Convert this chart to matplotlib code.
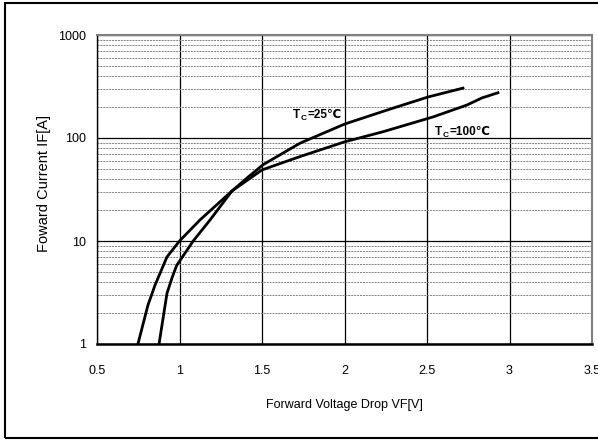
import matplotlib
matplotlib.use("Agg")
import matplotlib.pyplot as plt
from matplotlib.patches import Rectangle
import numpy as np

# Data
vf_25 = [0.748, 0.809, 0.852, 0.924, 1.0, 1.124, 1.318, 1.41, 1.506, 1.73, 2.003, 2.294, 2.506, 2.718]
if_25 = [1.0, 2.39, 3.74, 7.0, 10.0, 16.0, 30.6, 41.0, 55.0, 89.0, 137.0, 195.0, 250.0, 305.0]
vf_100 = [0.876, 0.924, 0.957, 0.983, 1.083, 1.185, 1.318, 1.5, 1.73, 2.003, 2.233, 2.536, 2.742, 2.833, 2.93]
if_100 = [1.0, 3.1, 4.5, 5.8, 10.0, 16.0, 30.6, 49.0, 66.0, 92.0, 115.0, 160.0, 209.0, 245.0, 275.0]
x_ticks = [0.5, 1, 1.5, 2, 2.5, 3, 3.5]
x_tick_labels = ["0.5", "1", "1.5", "2", "2.5", "3", "3.5"]
y_ticks = [1, 10, 100, 1000]
y_tick_labels = ["1", "10", "100", "1000"]

plt.rcParams['font.family'] = ['Liberation Sans', 'DejaVu Sans']

fig = plt.figure(figsize=(5.98, 4.41), dpi=100)
fig.patches.append(Rectangle((5/598, 1-438/441), 1.2, (438-3)/441, transform=fig.transFigure,
                             fill=False, edgecolor='black', linewidth=1.5))
ax = fig.add_axes([97/598, 1-344/441, (592-97)/598, (344-35)/441])
ax.set_yscale('log')
ax.set_xlim(0.5, 3.5)
ax.set_ylim(1, 1000)

ax.set_xticks(x_ticks)
ax.set_xticklabels(x_tick_labels)
ax.set_yticks(y_ticks)
ax.set_yticklabels(y_tick_labels)
ax.yaxis.set_minor_locator(matplotlib.ticker.LogLocator(base=10, subs=np.arange(2, 10)))
ax.yaxis.set_minor_formatter(matplotlib.ticker.NullFormatter())
ax.tick_params(axis='both', which='both', length=0, labelsize=9, colors='black')
ax.tick_params(axis='x', pad=15)
ax.tick_params(axis='y', pad=8)

ax.grid(True, which='major', color='black', linewidth=0.9)
ax.grid(True, which='minor', axis='y', color='#808080', linewidth=0.7, linestyle=(0, (2, 1)))
ax.set_axisbelow(True)

for s in ['top', 'right']:
    ax.spines[s].set_color('#808080')
    ax.spines[s].set_linewidth(1.5)
ax.spines['left'].set_color('black')
ax.spines['left'].set_linewidth(1.0)
ax.spines['bottom'].set_color('black')
ax.spines['bottom'].set_linewidth(1.8)

ax.plot(vf_25, if_25, color='black', linewidth=2.0)
ax.plot(vf_100, if_100, color='black', linewidth=2.0)


def tc_label(x, y, rest):
    kw = dict(fontweight='bold', va='baseline', ha='left', family=['Liberation Sans', 'DejaVu Sans'])
    t1 = ax.text(x, y, 'T', fontsize=8.5, **kw)
    t2 = ax.annotate('C', xy=(1, y), xycoords=(t1, 'data'), xytext=(0.3, -1.5),
                     textcoords='offset points', fontsize=6, **kw)
    ax.annotate(rest, xy=(1, y), xycoords=(t2, 'data'), xytext=(0.3, 0),
                textcoords='offset points', fontsize=8.5, **kw)


tc_label(1.688, 158, '=25℃')
tc_label(2.548, 108, '=100℃')

ax.set_xlabel('Forward Voltage Drop VF[V]', fontsize=9, labelpad=16)
ax.set_ylabel('Foward Current IF[A]', fontsize=10.5)
ax.yaxis.set_label_coords((51-97)/495, 1-(183-35)/309)

fig.savefig('out.png', dpi=100)
